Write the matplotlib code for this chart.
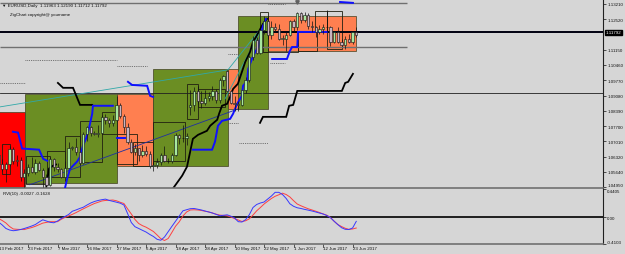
import matplotlib.pyplot as plt
from matplotlib.patches import Rectangle
from matplotlib.transforms import blended_transform_factory

plt.rcParams['font.family'] = ['Liberation Sans', 'DejaVu Sans']

# --- daily candles, bar 0 = 13 Feb 2017 ---
opens = [1.0638, 1.0600, 1.0575, 1.0600, 1.0665, 1.0615, 1.0617, 1.0541, 1.0560, 1.0587,
         1.0563, 1.0605, 1.0574, 1.0543, 1.0506, 1.0620, 1.0585, 1.0575, 1.0543, 1.0580,
         1.0670, 1.0675, 1.0655, 1.0605, 1.0735, 1.0765, 1.0740, 1.0736, 1.0740, 1.0810,
         1.0800, 1.0785, 1.0800, 1.0865, 1.0815, 1.0765, 1.0700, 1.0652, 1.0670, 1.0640,
         1.0660, 1.0645, 1.0590, 1.0595, 1.0610, 1.0640, 1.0612, 1.0615, 1.0640, 1.0730,
         1.0715, 1.0715, 1.0855, 1.0865, 1.0930, 1.0885, 1.0875, 1.0895, 1.0905, 1.0930,
         1.0890, 1.0980, 1.1020, 1.0930, 1.0875, 1.0870, 1.0865, 1.0935, 1.0980, 1.1080,
         1.1160, 1.1100, 1.1205, 1.1245, 1.1180, 1.1215, 1.1210, 1.1165, 1.1165, 1.1180,
         1.1245, 1.1215, 1.1280, 1.1250, 1.1270, 1.1220, 1.1215, 1.1195, 1.1210, 1.1215,
         1.1215, 1.1150, 1.1195, 1.1150, 1.1135, 1.1165, 1.1150, 1.1196]
highs = [1.0655, 1.0622, 1.0607, 1.0679, 1.0678, 1.0640, 1.0630, 1.0575, 1.0600, 1.0630,
         1.0620, 1.0615, 1.0580, 1.0553, 1.0630, 1.0627, 1.0605, 1.0580, 1.0615, 1.0700,
         1.0682, 1.0715, 1.0660, 1.0745, 1.0770, 1.0770, 1.0748, 1.0775, 1.0820, 1.0825,
         1.0805, 1.0820, 1.0906, 1.0875, 1.0825, 1.0785, 1.0710, 1.0690, 1.0672, 1.0685,
         1.0680, 1.0660, 1.0610, 1.0625, 1.0650, 1.0680, 1.0625, 1.0650, 1.0738, 1.0735,
         1.0775, 1.0737, 1.0935, 1.0945, 1.0950, 1.0930, 1.0935, 1.0925, 1.0950, 1.0937,
         1.0985, 1.1000, 1.1023, 1.0935, 1.0905, 1.0885, 1.0935, 1.0990, 1.1090, 1.1175,
         1.1170, 1.1210, 1.1265, 1.1268, 1.1245, 1.1235, 1.1230, 1.1180, 1.1195, 1.1250,
         1.1255, 1.1285, 1.1285, 1.1285, 1.1280, 1.1245, 1.1220, 1.1225, 1.1230, 1.1296,
         1.1220, 1.1200, 1.1215, 1.1165, 1.1175, 1.1185, 1.1200, 1.1219]
lows = [1.0599, 1.0566, 1.0520, 1.0590, 1.0601, 1.0590, 1.0524, 1.0494, 1.0545, 1.0560,
        1.0555, 1.0570, 1.0495, 1.0505, 1.0500, 1.0570, 1.0565, 1.0535, 1.0525, 1.0580,
        1.0662, 1.0640, 1.0600, 1.0600, 1.0705, 1.0725, 1.0732, 1.0720, 1.0735, 1.0780,
        1.0765, 1.0770, 1.0795, 1.0805, 1.0740, 1.0690, 1.0650, 1.0640, 1.0615, 1.0630,
        1.0635, 1.0580, 1.0569, 1.0580, 1.0595, 1.0610, 1.0605, 1.0605, 1.0635, 1.0690,
        1.0700, 1.0685, 1.0820, 1.0840, 1.0870, 1.0850, 1.0865, 1.0885, 1.0890, 1.0875,
        1.0875, 1.0950, 1.0925, 1.0870, 1.0840, 1.0839, 1.0860, 1.0920, 1.0970, 1.1070,
        1.1095, 1.1095, 1.1185, 1.1165, 1.1165, 1.1195, 1.1160, 1.1135, 1.1110, 1.1175,
        1.1195, 1.1205, 1.1235, 1.1240, 1.1210, 1.1195, 1.1170, 1.1185, 1.1185, 1.1195,
        1.1132, 1.1145, 1.1145, 1.1130, 1.1120, 1.1145, 1.1140, 1.1171]
closes = [1.0600, 1.0575, 1.0600, 1.0665, 1.0615, 1.0617, 1.0541, 1.0560, 1.0587, 1.0563,
          1.0605, 1.0574, 1.0543, 1.0506, 1.0620, 1.0585, 1.0575, 1.0543, 1.0580, 1.0670,
          1.0675, 1.0655, 1.0605, 1.0735, 1.0765, 1.0740, 1.0736, 1.0740, 1.0810, 1.0800,
          1.0785, 1.0800, 1.0865, 1.0815, 1.0765, 1.0700, 1.0652, 1.0670, 1.0640, 1.0660,
          1.0645, 1.0590, 1.0595, 1.0610, 1.0640, 1.0612, 1.0615, 1.0640, 1.0730, 1.0715,
          1.0715, 1.0725, 1.0865, 1.0930, 1.0885, 1.0875, 1.0895, 1.0905, 1.0930, 1.0890,
          1.0980, 1.0995, 1.0930, 1.0875, 1.0870, 1.0865, 1.0935, 1.0980, 1.1080, 1.1160,
          1.1100, 1.1205, 1.1245, 1.1180, 1.1215, 1.1210, 1.1165, 1.1165, 1.1180, 1.1245,
          1.1215, 1.1280, 1.1250, 1.1270, 1.1220, 1.1215, 1.1195, 1.1210, 1.1215, 1.1215,
          1.1150, 1.1195, 1.1150, 1.1135, 1.1165, 1.1150, 1.1195, 1.1179]

# RVI(10) main and signal, one value per bar
rvi_main = [-0.070, -0.116, -0.170, -0.194, -0.205, -0.198, -0.186, -0.170, -0.152, -0.132,
            -0.109, -0.070, -0.036, -0.055, -0.075, -0.082, -0.055, -0.016, 0.015, 0.046,
            0.096, 0.116, 0.139, 0.159, 0.193, 0.224, 0.247, 0.263, 0.275, 0.284,
            0.264, 0.250, 0.236, 0.221, 0.193, 0.061, -0.078, -0.143, -0.170, -0.198,
            -0.225, -0.262, -0.294, -0.338, -0.352, -0.302, -0.220, -0.138, -0.058, 0.023,
            0.103, 0.120, 0.136, 0.139, 0.128, 0.116, 0.100, 0.085, 0.069, 0.048,
            0.027, 0.034, 0.041, 0.020, -0.008, -0.065, -0.070, -0.034, 0.043, 0.154,
            0.201, 0.224, 0.239, 0.286, 0.332, 0.389, 0.389, 0.355, 0.294, 0.212,
            0.173, 0.150, 0.139, 0.125, 0.113, 0.100, 0.085, 0.069, 0.054, 0.031,
            -0.003, -0.058, -0.110, -0.158, -0.183, -0.186, -0.163, -0.060]
rvi_signal = [-0.016, -0.047, -0.085, -0.140, -0.178, -0.183, -0.186, -0.187, -0.170, -0.156,
              -0.136, -0.112, -0.087, -0.076, -0.065, -0.065, -0.065, -0.028, -0.000, 0.023,
              0.048, 0.075, 0.105, 0.134, 0.162, 0.190, 0.216, 0.235, 0.255, 0.263,
              0.266, 0.270, 0.258, 0.235, 0.216, 0.133, 0.054, -0.031, -0.093, -0.126,
              -0.150, -0.183, -0.217, -0.271, -0.328, -0.356, -0.325, -0.232, -0.135, -0.067,
              0.023, 0.085, 0.116, 0.119, 0.116, 0.108, 0.096, 0.086, 0.069, 0.051,
              0.037, 0.032, 0.026, 0.007, -0.017, -0.039, -0.062, -0.051, -0.021, 0.038,
              0.103, 0.154, 0.208, 0.252, 0.294, 0.328, 0.351, 0.376, 0.355, 0.317,
              0.260, 0.208, 0.181, 0.157, 0.134, 0.116, 0.097, 0.077, 0.055, 0.035,
              -0.000, -0.059, -0.109, -0.140, -0.167, -0.184, -0.178, -0.163]

# zigzag boxes: (start bar, end bar, low, high, colour)
zz_boxes = [(-3, 7.2, 1.0494, 1.0835, '#FF0000'),
            (7.2, 32.1, 1.0515, 1.0916, '#6B8E23'),
            (32.1, 41.9, 1.0592, 1.0916, '#FF7F50'),
            (41.9, 62.2, 1.0592, 1.1028, '#6B8E23'),
            (62.2, 65.0, 1.0848, 1.1028, '#FF7F50'),
            (65.0, 73.1, 1.0848, 1.1267, '#6B8E23'),
            (73.1, 97.0, 1.1109, 1.1267, '#FF7F50')]

# smaller swing boxes drawn as outlines
sub_boxes = [(0.9, 3.1, 1.0556, 1.0691), (7.5, 14.0, 1.0511, 1.0637), (13.2, 18.0, 1.0542, 1.0659),
             (18.0, 22.1, 1.0542, 1.0727), (22.1, 28.1, 1.0610, 1.0794), (28.1, 32.1, 1.0736, 1.0835),
             (32.1, 37.6, 1.0601, 1.0736), (36.5, 41.9, 1.0592, 1.0700), (41.9, 50.6, 1.0614, 1.0790),
             (51.1, 54.1, 1.0803, 1.0961), (54.1, 61.4, 1.0857, 1.0938), (70.9, 73.1, 1.1105, 1.1285),
             (71.7, 81.2, 1.1105, 1.1195), (81.2, 86.4, 1.1109, 1.1199), (85.8, 89.1, 1.1195, 1.1290),
             (89.1, 93.1, 1.1118, 1.1290)]

# step lines (bars, prices)
black_lines = [
    ([16.1, 17.5, 20.2, 22.1, 25.4], [1.0965, 1.0943, 1.0943, 1.0866, 1.0866]),
    ([12.9, 13.7, 14.8, 15.6], [1.0489, 1.0579, 1.0592, 1.0597]),
    ([47.3, 49.8, 51.1, 52.7, 54.1, 56.5, 57.4, 59.3, 59.8, 60.6, 62.0, 62.8, 63.6, 64.9,
      66.0, 66.9, 68.2, 69.0, 69.8, 71.7, 72.8],
     [1.0489, 1.0547, 1.0587, 1.0713, 1.0731, 1.0749, 1.0772, 1.0799, 1.0826, 1.0862,
      1.0871, 1.0902, 1.0938, 1.0961, 1.1015, 1.1060, 1.1105, 1.1150, 1.1172, 1.1231, 1.1254]),
    ([70.9, 71.7, 78.0, 78.8, 79.9, 81.0, 93.1, 94.0, 94.8, 96.1],
     [1.0785, 1.0812, 1.0812, 1.0862, 1.0866, 1.0929, 1.0929, 1.0965, 1.0970, 1.1006]),
]
blue_lines = [
    ([3.9, 5.3, 6.4, 11.0, 12.1, 13.2], [1.0745, 1.0741, 1.0669, 1.0664, 1.0623, 1.0614]),
    ([18.0, 18.6, 19.4, 21.3, 22.1, 22.9, 23.7, 24.5, 25.4, 25.6, 31.0],
     [1.0489, 1.0533, 1.0578, 1.0610, 1.0632, 1.0682, 1.0713, 1.0758, 1.0826, 1.0862, 1.0862]),
    ([32.1, 34.3], [1.0718, 1.0718]),
    ([35.1, 36.2, 40.3, 41.1, 41.9], [1.0970, 1.0956, 1.0952, 1.0907, 1.0902]),
    ([52.7, 57.9, 58.7, 59.5, 60.6, 62.8, 63.6, 64.7, 66.0, 66.3, 67.4, 67.7, 68.7, 69.6,
      70.4, 71.5, 71.7, 72.5],
     [1.0664, 1.0664, 1.0700, 1.0772, 1.0794, 1.0803, 1.0826, 1.0871, 1.0907, 1.0952,
      1.0974, 1.1028, 1.1073, 1.1105, 1.1127, 1.1208, 1.1222, 1.1253]),
    ([74.2, 78.2, 79.0, 79.6, 81.0, 81.2, 89.1], [1.1073, 1.1073, 1.1109, 1.1127, 1.1127, 1.1195, 1.1195]),
    ([92.6, 96.1], [1.1330, 1.1326]),
]
teal_lines = [([0.4, 62.2, 71.0], [1.0857, 1.1024, 1.1208]),
              ([61.4, 72.3], [1.0893, 1.1240])]
navy_lines = [([8.5, 65.0], [1.0506, 1.0848])]

# horizontal levels
level_short = [1.1326, 1.1125]        # end at bar 110.8
level_main = 1.11925                  # thick black
level_thin = 1.0920
dotted = [(7.2, 32.1, 1.1069), (32.1, 40.3, 1.1042), (0.4, 7.2, 1.0965), (62.2, 65.0, 1.1096),
          (62.2, 65.0, 1.0786), (73.6, 77.7, 1.1055), (65.2, 73.1, 1.0696), (73.1, 77.7, 1.1319)]

price_ticks = [1.13210, 1.12520, 1.11150, 1.10460, 1.09770, 1.09080,
               1.08390, 1.07700, 1.07010, 1.06320, 1.05640, 1.04950]
rvi_ticks = [0.4405, 0.0, -0.4103]
rvi_tick_labels = ['0.4405', '0.00', '-0.4103']
date_bars = [0, 8, 16, 24, 32, 40, 48, 56, 64, 72, 80, 88, 96]
date_labels = ['13 Feb 2017', '23 Feb 2017', '7 Mar 2017', '16 Mar 2017', '27 Mar 2017',
               '6 Apr 2017', '18 Apr 2017', '28 Apr 2017', '10 May 2017', '22 May 2017',
               '1 Jun 2017', '12 Jun 2017', '23 Jun 2017']

BG = '#D6D6D6'
FS = 3.2
W, H = 625, 255

fig = plt.figure(figsize=(6.25, 2.55), dpi=100, facecolor=BG)


def px_axes(x0, y0, x1, y1):
    return fig.add_axes([x0 / W, 1 - y1 / H, (x1 - x0) / W, (y1 - y0) / H])


ax = px_axes(0, 1, 603, 189)
axr = px_axes(0, 190, 603, 245)
for a in (ax, axr):
    a.set_facecolor(BG)
    a.set_xlim(0.4, 163.9)
    a.set_xticks([])
    for s in ('left', 'top'):
        a.spines[s].set_visible(False)
    a.spines['right'].set_color('#202020')
    a.spines['right'].set_linewidth(0.8)
    a.spines['bottom'].set_color('#707070')
    a.spines['bottom'].set_linewidth(1.2)
    a.yaxis.tick_right()
    a.tick_params(axis='y', length=2, width=0.5, pad=1, labelsize=FS, colors='#101010')

ax.set_ylim(1.04912, 1.13390)
ax.set_yticks(price_ticks)
ax.set_yticklabels([f'{p:.5f}' for p in price_ticks])
ax.get_yticklabels()[-1].set_va('bottom')

# zigzag boxes
for b0, b1, lo, hi, c in zz_boxes:
    ax.add_patch(Rectangle((b0, lo), b1 - b0, hi - lo, facecolor=c, edgecolor='#404020',
                           linewidth=0.5, zorder=0.5))
for b0, b1, lo, hi in sub_boxes:
    ax.add_patch(Rectangle((b0, lo), b1 - b0, hi - lo, facecolor='none', edgecolor='#202010',
                           linewidth=0.6, zorder=1))

# levels
ax.hlines(level_short, 0.4, 110.8, colors='#707070', linewidth=1.0, zorder=1.2)
ax.axhline(level_main, color='#000010', linewidth=1.4, zorder=1.2)
ax.axhline(level_thin, color='#202020', linewidth=0.6, zorder=1.2)
for b0, b1, p in dotted:
    ax.plot([b0, b1], [p, p], color='#505050', linewidth=0.6, linestyle=(0, (1, 1.2)), zorder=1.2)

for xs, ys in teal_lines:
    ax.plot(xs, ys, color='#30A8A8', linewidth=0.6, zorder=1.5)
for xs, ys in navy_lines:
    ax.plot(xs, ys, color='#2030A0', linewidth=0.6, zorder=1.5)

# candles
for i in range(len(opens)):
    o, h, l, c = opens[i], highs[i], lows[i], closes[i]
    ax.vlines(i, l, h, color='#101010', linewidth=0.5, zorder=3)
    body = max(abs(c - o), 0.00008)
    col = '#A8E8A0' if c >= o else '#C8B4C0'
    ax.bar(i, body, bottom=min(o, c), width=0.62, color=col, edgecolor='#101010',
           linewidth=0.4, zorder=3.2)

for xs, ys in black_lines:
    ax.plot(xs, ys, color='black', linewidth=1.3, zorder=2.5, solid_joinstyle='miter')
for xs, ys in blue_lines:
    ax.plot(xs, ys, color='#1010FF', linewidth=1.4, zorder=2.6, solid_joinstyle='miter')

# current price marker
tr = blended_transform_factory(ax.transAxes, ax.transData)
ax.text(1.004, level_main, '1.11792', transform=tr, fontsize=FS, color='white', va='center',
        ha='left', bbox=dict(facecolor='black', edgecolor='black', pad=0.5), zorder=5)

ax.text(0.004, 0.975, '\u25bc EURUSD,Daily  1.11963 1.12190 1.11712 1.11792', transform=ax.transAxes,
        fontsize=FS, va='center', ha='left', color='#101010')
ax.text(0.016, 0.925, 'ZigChart copyright@ yourname', transform=ax.transAxes,
        fontsize=FS, va='center', ha='left', color='#101010')
ax.plot([81], [1.1330], marker='v', markersize=2.5, color='#606060', zorder=4)

# RVI panel
axr.set_ylim(-0.4103, 0.4405)
axr.set_yticks(rvi_ticks)
axr.set_yticklabels(rvi_tick_labels)
axr.get_yticklabels()[0].set_va('top')
axr.get_yticklabels()[-1].set_va('bottom')
axr.axhline(0.0, color='black', linewidth=1.2)
bars = list(range(len(rvi_main)))
axr.plot(bars, rvi_signal, color='#FF4040', linewidth=0.7)
axr.plot(bars, rvi_main, color='#3838FF', linewidth=0.7)
axr.text(0.005, 0.92, 'RVI(10) -0.0027 -0.1628', transform=axr.transAxes, fontsize=FS,
         va='center', ha='left', color='#101010')

# date axis
trd = blended_transform_factory(axr.transData, fig.transFigure)
for b, lab in zip(date_bars, date_labels):
    axr.plot([b, b], [1 - 245 / H, 1 - 248 / H], transform=trd, color='#202020',
             linewidth=0.5, clip_on=False)
    axr.text(b, 1 - 249.5 / H, lab, transform=trd, fontsize=FS, ha='left', va='center',
             color='#101010')

fig.savefig('out.png', dpi=100, facecolor=BG)
